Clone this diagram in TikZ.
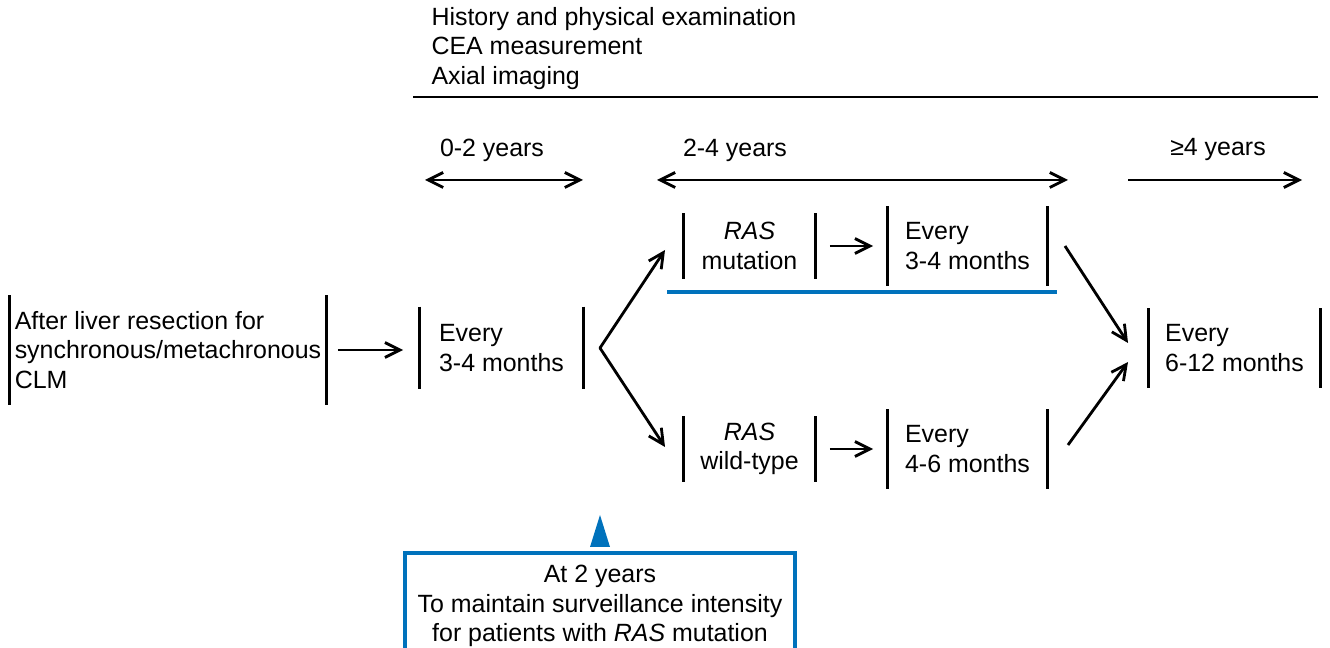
\documentclass[tikz,border=0pt]{standalone}
\usepackage{fontspec}
\setmainfont{Liberation Sans}
\usetikzlibrary{arrows.meta}
\definecolor{rasblue}{RGB}{0,114,188}

\begin{document}
\begin{tikzpicture}[x=0.02cm,y=-0.02cm,
  every node/.style={font=\fontsize{14.2}{16.9}\selectfont, inner sep=2pt, outer sep=0pt},
  stage/.style 2 args={align=left, minimum width=#1, minimum height=#2},
  gene/.style 2 args={align=center, minimum width=#1, minimum height=#2},
  bar/.style={line width=1.7pt},
  arr/.style={-{Straight Barb[length=3mm,width=3mm]}, line width=1.6pt},
  span/.style={{Straight Barb[length=3mm,width=3mm]}-{Straight Barb[length=3mm,width=3mm]}, line width=1.6pt},
  note/.style={draw=rasblue, line width=2.3pt, align=center, minimum width=7.8cm, inner ysep=0.24cm}]

\useasboundingbox (0,0) rectangle (1330,648);
\clip (0,0) rectangle (1330,648);

% what is checked at every visit
\node [anchor=west, align=left] (checks) at (428,48.5)
  {History and physical examination\\CEA measurement\\Axial imaging};
\draw [line width=1.5pt] (413,97) -- (1318,97);

% time line
\node (yr0) at (492,150) {0-2 years};
\node (yr2) at (735,150) {2-4 years};
\node (yr4) at (1218,150) {≥4 years};
\coordinate (a0) at (425,180);
\coordinate (a1) at (583,180);
\coordinate (b0) at (657,180);
\coordinate (b1) at (1068,180);
\coordinate (c0) at (1128,180);
\coordinate (c1) at (1302,180);
\draw [span] (a0) -- (a1);
\draw [span] (b0) -- (b1);
\draw [arr] (c0) -- (c1);

% stages
\node [stage={6.36cm}{2.2cm}] (start) at (168,350)
  {After liver resection for\\synchronous/metachronous\\CLM};
\node [stage={3.3cm}{1.66cm}] (first) at (501.5,348) {Every\\3-4 months};
\node [gene={2.66cm}{1.32cm}] (mut) at (749.5,246) {\textit{RAS}\\mutation};
\node [stage={3.22cm}{1.6cm}] (mutint) at (967.5,246) {Every\\3-4 months};
\node [gene={2.66cm}{1.32cm}] (wild) at (749.5,449) {\textit{RAS}\\wild-type};
\node [stage={3.22cm}{1.6cm}] (wildint) at (967.5,449) {Every\\4-6 months};
\node [stage={3.46cm}{1.6cm}] (late) at (1234.5,348) {Every\\6-12 months};

% the bars on both sides
\foreach \n in {start,first,mut,mutint,wild,wildint,late}
  \draw [bar] (\n.north west) -- (\n.south west) (\n.north east) -- (\n.south east);

% connectors
\draw [arr, shorten <=0.22cm, shorten >=0.32cm] (start.east) -- (start.east -| first.west);
\coordinate (fork) at ([xshift=0.32cm]first.east);
\draw [arr, line cap=round] (fork) -- ([xshift=-0.36cm,yshift=-0.08cm]mut.west);
\draw [arr, line cap=round] (fork) -- ([xshift=-0.36cm,yshift=0.04cm]wild.west);
\draw [arr, shorten <=0.28cm, shorten >=0.28cm] (mut) -- (mutint);
\draw [arr, shorten <=0.28cm, shorten >=0.28cm] (wild) -- (wildint);
\draw [arr] ([xshift=0.34cm]mutint.east) -- ([xshift=-0.4cm,yshift=0.1cm]late.west);
\draw [arr] ([xshift=0.4cm,yshift=0.08cm]wildint.east) -- ([xshift=-0.4cm,yshift=-0.28cm]late.west);

% blue marks
\draw [rasblue, line width=2.6pt] (667,292) -- (1057,292);
\fill [rasblue] (600,515) -- (610,547) -- (590,547) -- cycle;
\node [note, anchor=north] (remark) at (600,553)
  {At 2 years\\To maintain surveillance intensity\\for patients with \textit{RAS} mutation};

\end{tikzpicture}
\end{document}
